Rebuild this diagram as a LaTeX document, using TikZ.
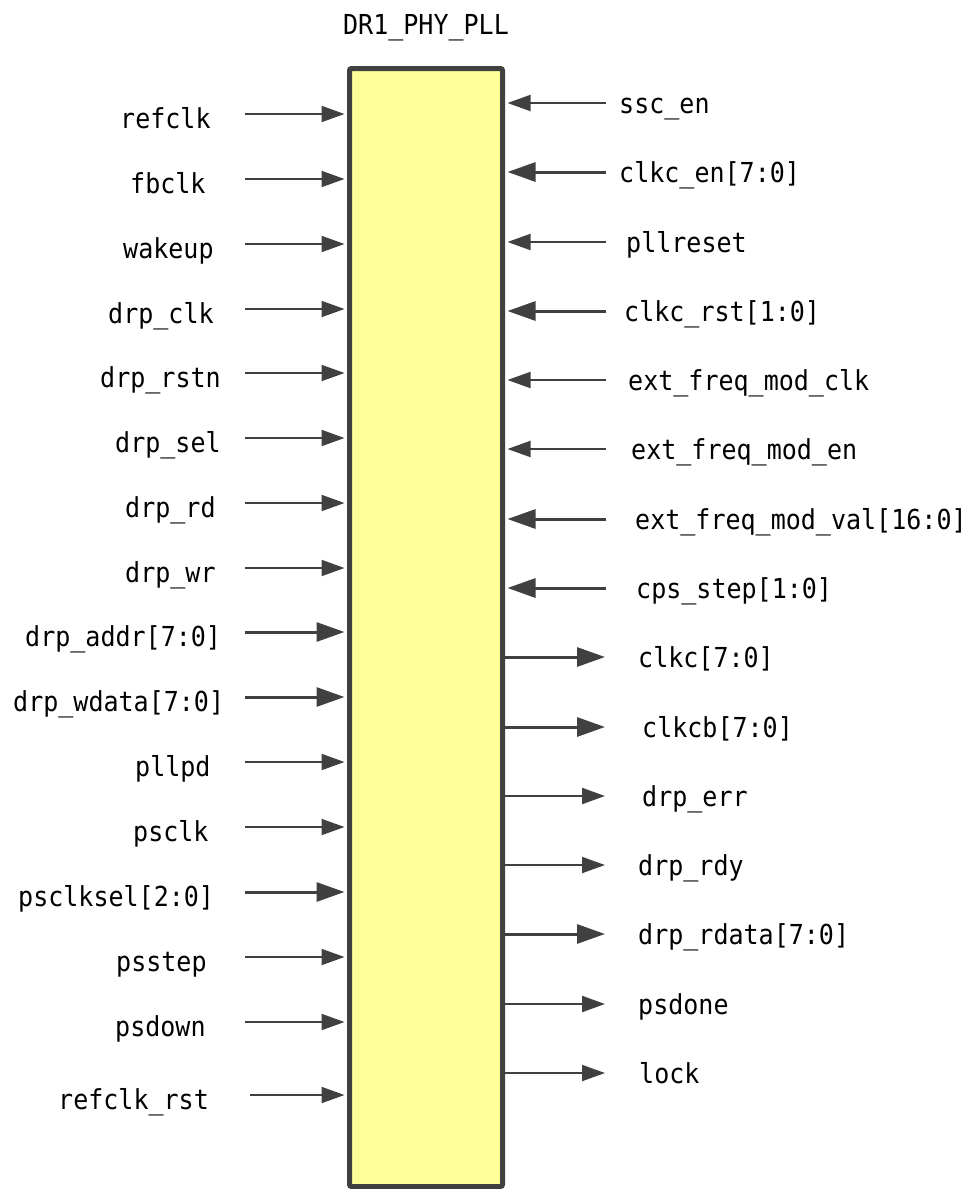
\documentclass[tikz,border=0pt]{standalone}
\usepackage{fontspec}
\usetikzlibrary{arrows.meta,positioning}
\newfontfamily\pinfont{DejaVu Sans Mono}[FakeStretch=0.91]
\definecolor{pinline}{HTML}{404040}
\definecolor{pllfill}{HTML}{FFFF99}
\tikzset{
	sig/.style={draw=pinline, line width=2pt, -{Triangle[length=23pt,width=16pt]}},
	bus/.style={draw=pinline, line width=3pt, -{Triangle[length=28pt,width=19pt]}},
	pin/.style={inner sep=0pt, font=\pinfont\fontsize{27.5}{30}\selectfont},
}
\begin{document}
\begin{tikzpicture}[x=1pt,y=-1pt]
		\useasboundingbox (0,0) rectangle (965,1189);
		\node[draw=pinline, fill=pllfill, line width=5pt, rounded corners=2pt, minimum width=153pt, minimum height=1118pt, inner sep=0pt] (pll) at (426,627.5) {};
		\node[pin, anchor=base] (title) at (426,34) {DR1\_PHY\_PLL};
		
		% left side, all inputs
		\foreach \i/\x/\y/\a/\t/\s in {1/120/114/245/refclk/sig, 2/130/179/245/fbclk/sig, 3/123/244/245/wakeup/sig, 4/108/309/245/drp\_clk/sig, 5/100/373/245/drp\_rstn/sig, 6/115/438/245/drp\_sel/sig, 7/125/503/245/drp\_rd/sig, 8/125/568/245/drp\_wr/sig, 9/25/632/245/drp\_addr[7:0]/bus, 10/13/697/245/drp\_wdata[7:0]/bus, 11/135/762/245/pllpd/sig, 12/133/827/245/psclk/sig, 13/18/892/245/psclksel[2:0]/bus, 14/116/957/245/psstep/sig, 15/115/1022/245/psdown/sig, 16/58/1095/250/refclk\_rst/sig}{
			\coordinate (la\i) at (\a,\y);
			\node[pin, anchor=base west] (l\i) at (\x,\y+14) {\t};
			\draw[\s, shorten >=2.5pt] (la\i) -- (la\i -| pll.west);
		}
		
		% right side inputs
		\foreach \i/\x/\y/\t/\s in {1/619/103/ssc\_en/sig, 2/619/172/clkc\_en[7:0]/bus, 3/626/242/pllreset/sig, 4/624/311/clkc\_rst[1:0]/bus, 5/628/380/ext\_freq\_mod\_clk/sig, 6/631/449/ext\_freq\_mod\_en/sig, 7/635/519/ext\_freq\_mod\_val[16:0]/bus, 8/636/588/cps\_step[1:0]/bus}{
			\coordinate (ra\i) at (606,\y);
			\node[pin, anchor=base west] (r\i) at (\x,\y+10) {\t};
			\draw[\s, shorten >=2.5pt] (ra\i) -- (ra\i -| pll.east);
		}
		
		% right side outputs
		\foreach \i/\x/\y/\t/\s in {9/638/657/clkc[7:0]/bus, 10/642/727/clkcb[7:0]/bus, 11/642/796/drp\_err/sig, 12/638/865/drp\_rdy/sig, 13/638/934/drp\_rdata[7:0]/bus, 14/638/1004/psdone/sig, 15/639/1073/lock/sig}{
			\coordinate (ra\i) at (605,\y);
			\node[pin, anchor=base west] (r\i) at (\x,\y+10) {\t};
			\draw[\s] (ra\i -| pll.east) -- (ra\i);
		}
\end{tikzpicture}
\end{document}
